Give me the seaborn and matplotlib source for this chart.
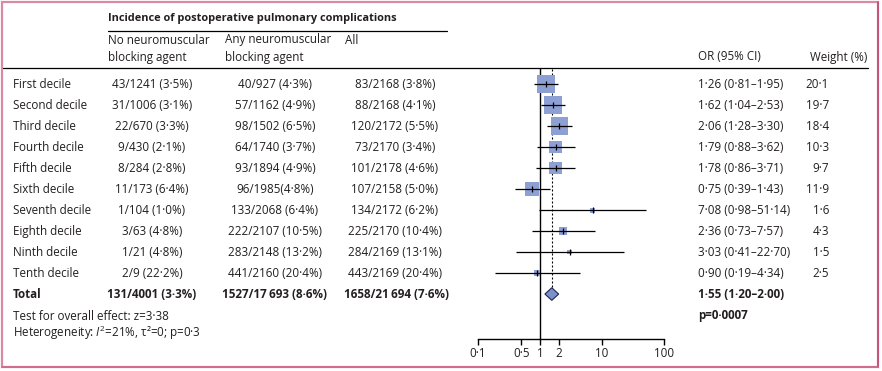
import numpy as np
import pandas as pd
import matplotlib
matplotlib.use("Agg")
import matplotlib.pyplot as plt
import matplotlib.transforms as mtransforms
from matplotlib.lines import Line2D
from matplotlib.patches import Rectangle
import seaborn as sns

# data
deciles = ['First decile', 'Second decile', 'Third decile', 'Fourth decile', 'Fifth decile',
           'Sixth decile', 'Seventh decile', 'Eighth decile', 'Ninth decile', 'Tenth decile']
no_nmba = ['43/1241 (3·5%)', '31/1006 (3·1%)', '22/670 (3·3%)', '9/430 (2·1%)', '8/284 (2·8%)',
           '11/173 (6·4%)', '1/104 (1·0%)', '3/63 (4·8%)', '1/21 (4·8%)', '2/9 (22·2%)']
any_nmba = ['40/927 (4·3%)', '57/1162 (4·9%)', '98/1502 (6·5%)', '64/1740 (3·7%)', '93/1894 (4·9%)',
            '96/1985(4·8%)', '133/2068 (6·4%)', '222/2107 (10·5%)', '283/2148 (13·2%)', '441/2160 (20·4%)']
all_pts = ['83/2168 (3·8%)', '88/2168 (4·1%)', '120/2172 (5·5%)', '73/2170 (3·4%)', '101/2178 (4·6%)',
           '107/2158 (5·0%)', '134/2172 (6·2%)', '225/2170 (10·4%)', '284/2169 (13·1%)', '443/2169 (20·4%)']
odds = [1.26, 1.62, 2.06, 1.79, 1.78, 0.75, 7.08, 2.36, 3.03, 0.90]
ci_lo = [0.81, 1.04, 1.28, 0.88, 0.86, 0.39, 0.98, 0.73, 0.41, 0.19]
ci_hi = [1.95, 2.53, 3.30, 3.62, 3.71, 1.43, 51.14, 7.57, 22.70, 4.34]
weight = [20.1, 19.7, 18.4, 10.3, 9.7, 11.9, 1.6, 4.3, 1.5, 2.5]
total_counts = ['131/4001 (3·3%)', '1527/17\u2009693 (8·6%)', '1658/21\u2009694 (7·6%)']
total_or, total_lo, total_hi = 1.55, 1.20, 2.00
x_ticks = [0.1, 0.5, 1, 2, 10, 100]
x_ticklabels = ['0·1', '0·5', '1', '2', '10', '100']

sns.set_theme(style='white')
plt.rcParams['font.family'] = ['Open Sans', 'DejaVu Sans']
plt.rcParams['mathtext.fontset'] = 'custom'
plt.rcParams['mathtext.rm'] = 'Open Sans'
plt.rcParams['mathtext.it'] = 'Open Sans:italic'

TXT = '#231f20'
FS = 8.4
W, H = 882, 371


def fx(x):
    return x / W


def fy(y):
    return 1 - y / H


def dot(v):
    return f"{v:.2f}".replace('.', '·')


df = pd.DataFrame({'row': np.arange(len(deciles)), 'odds': odds, 'lo': ci_lo, 'hi': ci_hi, 'weight': weight})

fig = plt.figure(figsize=(8.82, 3.71), dpi=100)
ax = fig.add_axes([fx(478), fy(339), fx(186), (339 - 68) / H])
ax.set_xscale('log')
ax.set_xlim(0.1, 100)
ax.set_ylim(12.14, -0.762)

# weight squares
wmax = max(weight)
sns.scatterplot(data=df, x='odds', y='row', size='weight', sizes=(0, 8.3 * wmax), size_norm=(0, wmax),
                marker='s', color='#8e9fd4', linewidth=0, legend=False, ax=ax, zorder=2)
ax.hlines(df['row'], df['lo'], df['hi'], color='black', lw=0.9, zorder=3)
ax.plot(df['odds'], df['row'], ls='none', marker='|', ms=5, mew=0.9, color='black', zorder=4)

# pooled diamond
ty, hh = len(deciles), 0.3
ax.fill([total_lo, total_or, total_hi, total_or], [ty, ty - hh, ty, ty + hh],
        facecolor='#7d90c8', edgecolor='#1c2550', lw=0.8, zorder=3)
ax.axvline(1, color='black', lw=1, zorder=1)
ax.vlines(total_or, -0.7, ty - hh, color='black', lw=0.8, linestyles=(0, (1.8, 1.8)), zorder=1)

for s in ['top', 'right', 'left']:
    ax.spines[s].set_visible(False)
ax.spines['bottom'].set_color('black')
ax.spines['bottom'].set_linewidth(1)
ax.set_yticks([])
ax.set_xticks(x_ticks)
ax.set_xticklabels(x_ticklabels)
ax.xaxis.set_minor_locator(matplotlib.ticker.NullLocator())
ax.tick_params(axis='x', direction='out', length=4, width=1, color='black', pad=2,
               labelsize=FS, labelcolor=TXT, bottom=True)
ax.set_xlabel('')
ax.set_ylabel('')
ax.patch.set_alpha(0)

# table text, rows follow the forest axis
tr = mtransforms.blended_transform_factory(fig.transFigure, ax.transData)
for i in range(len(deciles)):
    ax.text(fx(13), i, deciles[i], transform=tr, ha='left', va='center', fontsize=FS, color=TXT)
    ax.text(fx(152), i, no_nmba[i], transform=tr, ha='center', va='center', fontsize=FS, color=TXT)
    ax.text(fx(275), i, any_nmba[i], transform=tr, ha='center', va='center', fontsize=FS, color=TXT)
    ax.text(fx(395), i, all_pts[i], transform=tr, ha='center', va='center', fontsize=FS, color=TXT)
    ax.text(fx(698), i, f"{dot(odds[i])} ({dot(ci_lo[i])}–{dot(ci_hi[i])})", transform=tr,
            ha='left', va='center', fontsize=FS, color=TXT)
    ax.text(fx(829), i, f"{weight[i]:.1f}".replace('.', '·'), transform=tr,
            ha='right', va='center', fontsize=FS, color=TXT)

ax.text(fx(13), ty, 'Total', transform=tr, ha='left', va='center', fontsize=FS, color=TXT, weight='bold')
for xc, s in zip([152, 275, 396], total_counts):
    ax.text(fx(xc), ty, s, transform=tr, ha='center', va='center', fontsize=FS, color=TXT, weight='bold')
ax.text(fx(698), ty, f"{dot(total_or)} ({dot(total_lo)}–{dot(total_hi)})", transform=tr,
        ha='left', va='center', fontsize=FS, color=TXT, weight='bold')

fig.text(fx(13), fy(316), 'Test for overall effect: z=3·38', ha='left', va='center', fontsize=FS, color=TXT)
fig.text(fx(13), fy(333), r'Heterogeneity: $\mathit{I}^2$=21%, τ²=0; p=0·3', ha='left', va='center',
         fontsize=FS, color=TXT)
fig.text(fx(698), fy(316), 'p=0·0007', ha='left', va='center', fontsize=FS, color=TXT, weight='bold')

# headers
fig.text(fx(108), fy(19), 'Incidence of postoperative pulmonary complications', ha='left', va='center',
         fontsize=7.9, color=TXT, weight='bold')
fig.text(fx(108), fy(40), 'No neuromuscular', ha='left', va='center', fontsize=FS, color=TXT)
fig.text(fx(108), fy(57), 'blocking agent', ha='left', va='center', fontsize=FS, color=TXT)
fig.text(fx(225), fy(40), 'Any neuromuscular', ha='left', va='center', fontsize=FS, color=TXT)
fig.text(fx(225), fy(57), 'blocking agent', ha='left', va='center', fontsize=FS, color=TXT)
fig.text(fx(345), fy(40), 'All', ha='left', va='center', fontsize=FS, color=TXT)
fig.text(fx(698), fy(57), 'OR (95% CI)', ha='left', va='center', fontsize=FS, color=TXT)
fig.text(fx(810), fy(57), 'Weight (%)', ha='left', va='center', fontsize=FS, color=TXT)

fig.add_artist(Line2D([fx(108), fx(447)], [fy(31), fy(31)], color='black', lw=0.9))
fig.add_artist(Line2D([fx(3), fx(868)], [fy(68), fy(68)], color='black', lw=0.9))

# frame
fig.add_artist(Rectangle((fx(2), fy(367)), fx(876), (367 - 2) / H, fill=False, ec='#d88aa4', lw=1.6,
                         transform=fig.transFigure))
fig.add_artist(Line2D([fx(878), fx(878)], [fy(2), fy(367)], color='#c44a76', lw=1.2))
fig.add_artist(Line2D([fx(2), fx(878)], [fy(367), fy(367)], color='#d0668c', lw=1.2))

fig.savefig('out.png', dpi=100, facecolor='white')
